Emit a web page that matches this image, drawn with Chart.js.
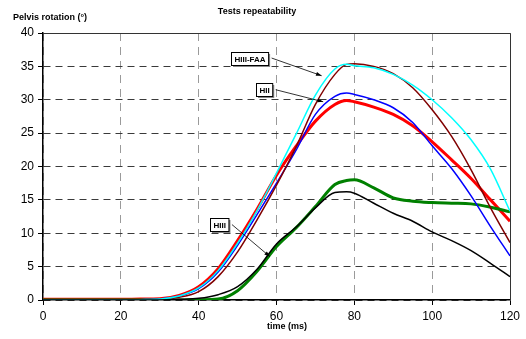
<!DOCTYPE html>
<html>
<head>
<meta charset="utf-8">
<script src="https://cdn.jsdelivr.net/npm/chart.js@4/dist/chart.umd.min.js"></script>
<style>
  html, body { margin: 0; padding: 0; background: #fff; }
  #wrap { width: 526px; height: 339px; }
</style>
</head>
<body>
<div id="wrap"><canvas id="pelvisChart"></canvas></div>
<script>
// time (ms)
const timeMs = [0, 10, 20, 25, 30, 35, 40, 45, 50, 55, 60, 65, 70, 75, 78, 80, 85, 90, 95, 100, 105, 110, 115, 120];

// pelvis rotation (deg), two runs per dummy
const hiiiFaaA = [0, 0, 0, 0.05, 0.15, 0.6, 1.8, 4.4, 8.5, 13.4, 19.0, 24.8, 30.7, 34.6, 35.3, 35.1, 34.8, 33.8, 32.2, 30.0, 27.3, 24.0, 19.6, 13.3];
const hiiiFaaB = [0, 0, 0, 0.05, 0.1, 0.4, 1.25, 3.5, 7.2, 12.0, 17.2, 22.9, 29.3, 33.8, 35.3, 35.4, 35.0, 33.9, 31.8, 28.5, 24.5, 19.5, 13.8, 8.6];
const hiiA = [0, 0, 0, 0.05, 0.15, 0.6, 1.7, 4.2, 8.2, 12.8, 17.5, 22.4, 27.8, 30.5, 31.0, 30.8, 30.0, 28.8, 26.6, 23.1, 19.7, 15.6, 11.0, 6.6];
const hiiB = [0.1, 0.1, 0.1, 0.15, 0.2, 0.7, 2.0, 4.7, 8.9, 13.6, 18.7, 23.0, 26.8, 29.3, 29.9, 29.7, 28.9, 27.8, 26.1, 23.7, 21.0, 18.2, 15.0, 11.8];
const hiiiA = [0, 0, 0, 0, 0, 0, 0.05, 0.15, 1.4, 4.3, 8.0, 10.8, 14.0, 17.3, 17.9, 18.0, 16.8, 15.3, 14.8, 14.6, 14.5, 14.4, 13.9, 13.2];
const hiiiB = [0, 0, 0, 0, 0, 0.1, 0.25, 0.8, 2.0, 4.6, 8.4, 10.9, 13.8, 16.1, 16.2, 16.0, 14.5, 13.0, 11.8, 10.2, 8.9, 7.4, 5.5, 3.5];

const xTicks = [0, 20, 40, 60, 80, 100, 120];
const yTicks = [0, 5, 10, 15, 20, 25, 30, 35, 40];

// callout boxes: label, box centre and arrow tip in data units
const callouts = [
  { text: 'HIII-FAA', box: [53.2, 36.25], tip: [71.6, 33.6] },
  { text: 'HII', box: [56.8, 31.5], tip: [72.0, 29.7] },
  { text: 'HIII', box: [45.4, 11.3], tip: [58.3, 6.5] }
];

const pts = arr => arr.map((v, i) => ({ x: timeMs[i], y: v }));

function series(label, values, color, width) {
  return {
    label: label,
    data: pts(values),
    borderColor: color,
    backgroundColor: color,
    borderWidth: width,
    pointRadius: 0,
    fill: false,
    cubicInterpolationMode: 'monotone'
  };
}

Chart.defaults.font.family = '"Liberation Sans", Arial, sans-serif';
Chart.defaults.color = '#000';

// frame, titles, callouts
const extras = {
  id: 'extras',
  afterDraw(chart) {
    const ctx = chart.ctx;
    const a = chart.chartArea;
    const x = chart.scales.x, y = chart.scales.y;
    ctx.save();

    ctx.strokeStyle = '#333';
    ctx.lineWidth = 1;
    ctx.beginPath();
    ctx.moveTo(a.left, a.top + 0.5);
    ctx.lineTo(a.right + 0.5, a.top + 0.5);
    ctx.lineTo(a.right + 0.5, a.bottom);
    ctx.stroke();

    ctx.fillStyle = '#000';
    ctx.font = 'bold 9px "Liberation Sans", Arial, sans-serif';
    ctx.textBaseline = 'middle';
    ctx.textAlign = 'center';
    ctx.fillText('Tests repeatability', 257, 12);
    ctx.fillText('time (ms)', 287, 327);
    ctx.textAlign = 'left';
    ctx.fillText('Pelvis rotation (°)', 13, 18);

    ctx.font = 'bold 8px "Liberation Sans", Arial, sans-serif';
    callouts.forEach(c => {
      const bx = x.getPixelForValue(c.box[0]);
      const by = y.getPixelForValue(c.box[1]);
      const tx = x.getPixelForValue(c.tip[0]);
      const ty = y.getPixelForValue(c.tip[1]);
      const w = ctx.measureText(c.text).width + 6;
      const h = 13;
      const l = Math.round(bx - w / 2) + 0.5, t = Math.round(by - h / 2) + 0.5;

      // arrow
      const sx = l + w + 3, sy = by;
      ctx.strokeStyle = '#000';
      ctx.lineWidth = 0.8;
      ctx.beginPath();
      ctx.moveTo(sx, sy);
      ctx.lineTo(tx, ty);
      ctx.stroke();
      const ang = Math.atan2(ty - sy, tx - sx);
      ctx.beginPath();
      ctx.moveTo(tx, ty);
      ctx.lineTo(tx - 6 * Math.cos(ang - 0.35), ty - 6 * Math.sin(ang - 0.35));
      ctx.lineTo(tx - 6 * Math.cos(ang + 0.35), ty - 6 * Math.sin(ang + 0.35));
      ctx.closePath();
      ctx.fillStyle = '#000';
      ctx.fill();

      // box with shadow
      ctx.fillStyle = '#888';
      ctx.fillRect(l + 1.5, t + 1.5, w, h);
      ctx.fillStyle = '#fff';
      ctx.fillRect(l, t, w, h);
      ctx.strokeStyle = '#000';
      ctx.lineWidth = 1;
      ctx.strokeRect(l, t, w, h);
      ctx.fillStyle = '#000';
      ctx.textAlign = 'center';
      ctx.fillText(c.text, l + w / 2, t + h / 2 + 0.5);
    });
    ctx.restore();
  }
};

const ctx = document.getElementById('pelvisChart').getContext('2d');
const pelvisChart = new Chart(ctx, {
  type: 'line',
  data: {
    datasets: [
      series('HIII run 2', hiiiB, '#000000', 1.5),
      series('HIII-FAA run 1', hiiiFaaA, '#00ffff', 1.5),
      series('HIII-FAA run 2', hiiiFaaB, '#800000', 1.5),
      series('HII run 1', hiiA, '#0000ff', 1.5),
      series('HIII run 1', hiiiA, '#008000', 3),
      series('HII run 2', hiiB, '#ff0000', 3)
    ]
  },
  options: {
    responsive: true,
    maintainAspectRatio: false,
    animation: false,
    layout: { padding: { top: 33, right: 16, left: 0, bottom: 0 } },
    plugins: {
      legend: { display: false },
      title: { display: false },
      tooltip: { enabled: false }
    },
    scales: {
      x: {
        type: 'linear',
        min: 0,
        max: 120,
        afterBuildTicks: s => { s.ticks = xTicks.map(v => ({ value: v })); },
        ticks: { font: { size: 12 }, padding: 4, maxRotation: 0 },
        grid: { color: '#9a9a9a', tickColor: '#000', tickLength: 5 },
        border: { color: '#000', width: 1.5, dash: [8, 6] },
        afterFit: s => { s.height = 39; }
      },
      y: {
        min: 0,
        max: 40,
        afterBuildTicks: s => { s.ticks = yTicks.map(v => ({ value: v })); },
        ticks: { font: { size: 12 }, padding: 4 },
        grid: { color: '#3a3a3a', tickColor: '#000', tickLength: 5 },
        border: { color: '#000', width: 1.5, dash: [7, 5] },
        afterFit: s => { s.width = 43; }
      }
    }
  },
  plugins: [extras]
});
</script>
</body>
</html>
